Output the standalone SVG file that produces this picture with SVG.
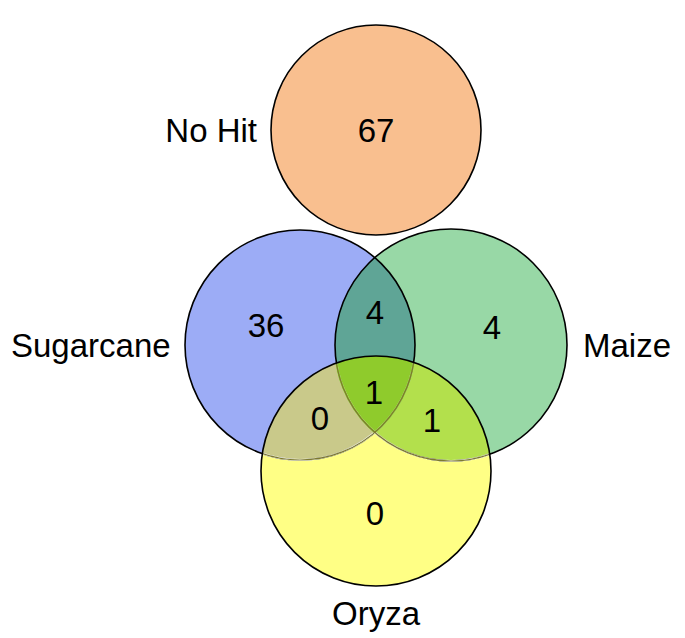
<svg xmlns="http://www.w3.org/2000/svg" width="685" height="638" viewBox="0 0 685 638">
<style>
.lbl{font-family:"Liberation Sans",Arial,sans-serif;font-size:33px;fill:#000;}
.num{font-family:"Liberation Sans",Arial,sans-serif;font-size:33px;fill:#000;text-anchor:middle;}
.edge{fill:none;stroke:#000;stroke-width:1.6;}
.faint{fill:none;stroke:#7d7a30;stroke-width:1.2;}
</style>
<defs>
<clipPath id="cB"><circle cx="300" cy="345" r="115"/></clipPath>
<clipPath id="cG"><circle cx="451" cy="345" r="116"/></clipPath>
<clipPath id="cY"><circle cx="376" cy="471" r="115"/></clipPath>
</defs>
<rect width="685" height="638" fill="#fff"/>
<g id="nohit">
<circle cx="376" cy="130" r="105" style="fill:#F9BF8F"/>
<text class="num" x="376" y="142">67</text>
<text class="lbl" x="257" y="142" text-anchor="end">No Hit</text>
</g>
<g id="sugarcane">
<circle cx="300" cy="345" r="115" fill="#9CACF6"/>
<text class="num" x="266" y="337">36</text>
<text class="lbl" x="11" y="357">Sugarcane</text>
</g>
<g id="maize">
<circle cx="451" cy="345" r="116" fill="#98D8A6"/>
<text class="num" x="492" y="339">4</text>
<text class="lbl" x="583" y="357">Maize</text>
</g>
<g id="oryza">
<circle cx="376" cy="471" r="115" fill="#FFFF85"/>
<text class="num" x="375" y="525">0</text>
<text class="lbl" x="376" y="625" text-anchor="middle">Oryza</text>
</g>
<g id="overlaps">
<g clip-path="url(#cB)"><circle cx="451" cy="345" r="116" fill="#5FA596"/></g>
<g clip-path="url(#cB)"><circle cx="376" cy="471" r="115" fill="#C9C98A"/></g>
<g clip-path="url(#cG)"><circle cx="376" cy="471" r="115" fill="#B3E04C"/></g>
<g clip-path="url(#cB)"><g clip-path="url(#cG)"><circle cx="376" cy="471" r="115" fill="#8FCB2C"/></g></g>
<text class="num" x="375" y="324">4</text>
<text class="num" x="374" y="404">1</text>
<text class="num" x="320" y="430">0</text>
<text class="num" x="432" y="432">1</text>
</g>
<g id="connectors">
<circle cx="376" cy="130" r="105" class="edge"/>
<circle cx="300" cy="345" r="115" class="edge"/>
<circle cx="451" cy="345" r="116" class="edge"/>
<g clip-path="url(#cY)">
<circle cx="300" cy="345" r="115" fill="none" stroke="#fff" stroke-width="2"/>
<circle cx="451" cy="345" r="116" fill="none" stroke="#fff" stroke-width="2"/>
</g>
<g clip-path="url(#cY)">
<g clip-path="url(#cB)"><circle cx="451" cy="345" r="116" fill="none" stroke="#8FCB2C" stroke-width="2.2"/></g>
<g clip-path="url(#cG)"><circle cx="300" cy="345" r="115" fill="none" stroke="#8FCB2C" stroke-width="2.2"/></g>
<circle cx="300" cy="345" r="115" class="faint"/>
<circle cx="451" cy="345" r="116" class="faint"/>
</g>
<circle cx="376" cy="471" r="115" class="edge"/>
</g>
</svg>
